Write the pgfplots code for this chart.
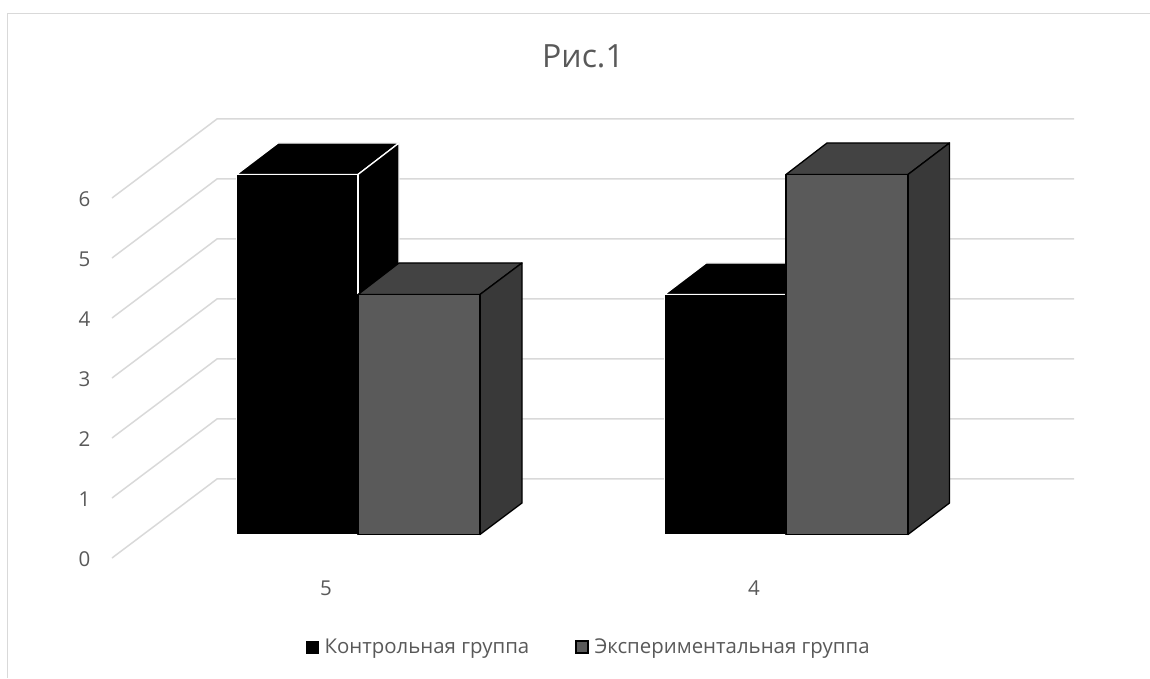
\documentclass[border=0pt]{standalone}
\usepackage{fontspec}
\setmainfont{Open Sans}
\usepackage{pgfplots}
\pgfplotsset{compat=1.18}
\definecolor{txt}{HTML}{595959}
\definecolor{gridc}{HTML}{D9D9D9}
\definecolor{frontg}{HTML}{5A5A5A}
\definecolor{topg}{HTML}{434343}
\definecolor{sideg}{HTML}{393939}
\pgfplotsset{
  blackbar/.style={fill=black,draw=white,line width=1.3pt,line join=round,forget plot},
  greybar/.style={draw=black,line width=1.3pt,line join=round,forget plot},
  wall/.style={draw=gridc,line width=1.5pt,forget plot},
  sq legend/.style={legend image code/.code={\draw[##1] (0pt,-6pt) rectangle (12pt,6pt); \path (16pt,0pt);}},
}
\begin{document}
\begin{tikzpicture}
\begin{axis}[
  scale only axis,width=962pt,height=439pt,
  xmin=112,xmax=1074,ymin=0,ymax=7.3167,
  clip=false,
  axis line style={draw=none},
  major tick length=0pt,
  xtick={326,754},xticklabels={5,4},
  ytick={0,1,2,3,4,5,6},
  /pgf/number format/assume math mode=true,
  tick label style={text=txt,font=\fontsize{20.5}{24}\selectfont},
  yticklabel style={xshift=-18pt,yshift=-1.5pt},
  xticklabel style={yshift=-19pt},
  title={Рис.1},
  title style={at={(axis cs:583,8.26)},anchor=center,text=txt,font=\fontsize{32}{38}\selectfont},
  legend style={at={(axis cs:303,-1.483)},anchor=west,draw=none,fill=none,
    legend columns=2,text=txt,font=\fontsize{20.4}{24}\selectfont,
    /tikz/every even column/.style={column sep=44pt}},
  legend cell align=left,
]
% chart frame
\addplot[draw=gridc,line width=1.2pt,forget plot] coordinates {(7.5,-2) (7.5,9.075) (1150,9.075)};

% walls: one line per value, front edge to back edge and on to the right
\addplot[wall] coordinates {(112,0) (217,1.317) (1074,1.317)};
\addplot[wall] coordinates {(112,1) (217,2.317) (1074,2.317)};
\addplot[wall] coordinates {(112,2) (217,3.317) (1074,3.317)};
\addplot[wall] coordinates {(112,3) (217,4.317) (1074,4.317)};
\addplot[wall] coordinates {(112,4) (217,5.317) (1074,5.317)};
\addplot[wall] coordinates {(112,5) (217,6.317) (1074,6.317)};
\addplot[wall] coordinates {(112,6) (217,7.317) (1074,7.317)};

% Контрольная группа, 5: value 6
\addplot[blackbar] coordinates {(236.5,6.392) (278,6.917) (399,6.917) (358,6.392)} --cycle;
\addplot[blackbar] coordinates {(358,0.392) (399,0.917) (399,6.917) (358,6.392)} --cycle;
\addplot[blackbar] coordinates {(236.5,0.392) (358,0.392) (358,6.392) (236.5,6.392)} --cycle;
% Экспериментальная группа, 5: value 4
\addplot[greybar,fill=topg] coordinates {(358,4.392) (399,4.917) (522,4.917) (480,4.392)} --cycle;
\addplot[greybar,fill=sideg] coordinates {(480,0.392) (522,0.917) (522,4.917) (480,4.392)} --cycle;
\addplot[greybar,fill=frontg] coordinates {(358,0.392) (480,0.392) (480,4.392) (358,4.392)} --cycle;
% Контрольная группа, 4: value 4
\addplot[blackbar] coordinates {(664.5,4.392) (706,4.917) (827,4.917) (786,4.392)} --cycle;
\addplot[blackbar] coordinates {(664.5,0.392) (786,0.392) (786,4.392) (664.5,4.392)} --cycle;
% Экспериментальная группа, 4: value 6
\addplot[greybar,fill=topg] coordinates {(786,6.392) (827,6.917) (949.5,6.917) (908,6.392)} --cycle;
\addplot[greybar,fill=sideg] coordinates {(908,0.392) (949.5,0.917) (949.5,6.917) (908,6.392)} --cycle;
\addplot[greybar,fill=frontg] coordinates {(786,0.392) (908,0.392) (908,6.392) (786,6.392)} --cycle;

\addlegendimage{sq legend,fill=black,draw=black}
\addlegendentry{Контрольная группа}
\addlegendimage{sq legend,fill=frontg,draw=black,line width=1.2pt}
\addlegendentry{Экспериментальная группа}
\end{axis}
\pgfresetboundingbox
\useasboundingbox (-112pt,-120pt) rectangle (1038pt,558pt);
\end{tikzpicture}
\end{document}
